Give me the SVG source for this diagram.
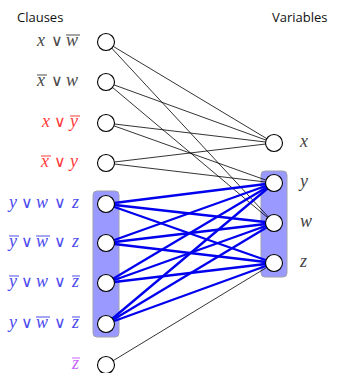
<svg xmlns="http://www.w3.org/2000/svg" width="340" height="373" viewBox="0 0 340 373">
<style>
.hdr{font-family:"Open Sans","Liberation Sans",sans-serif;font-size:13px;fill:#111}
.lab{font-family:"Liberation Serif","DejaVu Serif",serif;font-size:18px;font-style:italic}
.rl{font-family:"Liberation Serif","DejaVu Serif",serif;font-size:18px;fill:#444;font-style:italic}
.op{font-family:"DejaVu Sans","Liberation Sans",sans-serif;font-size:16px;font-style:normal}
.gray{fill:#4a4a4a}.red{fill:#ff3b3b}.blue{fill:#4d4dee}.pur{fill:#c766ff}
.ol{stroke-width:1;fill:none}
.olg{stroke:#4a4a4a}.olr{stroke:#ff3b3b}.olb{stroke:#4d4dee}.olp{stroke:#c766ff}
.e{stroke:#000;stroke-width:0.8;fill:none}
.b{stroke:#0000ee;stroke-width:2.3;fill:none}
.n{fill:#fff;stroke:#000;stroke-width:1.1}
.box{fill:#9999ff;stroke:#a0a0b0;stroke-width:1}
</style>
<rect class="box" x="93" y="191" width="26" height="146" rx="4"/>
<rect class="box" x="261" y="171" width="26" height="106" rx="4"/>
<text class="hdr" x="17" y="22">Clauses</text>
<text class="hdr" x="272" y="22">Variables</text>
<g id="connectors">
<line class="e" x1="106" y1="42" x2="274" y2="143"/>
<line class="e" x1="106" y1="42" x2="274" y2="223"/>
<line class="e" x1="106" y1="82" x2="274" y2="143"/>
<line class="e" x1="106" y1="82" x2="274" y2="223"/>
<line class="e" x1="106" y1="123" x2="274" y2="143"/>
<line class="e" x1="106" y1="123" x2="274" y2="183"/>
<line class="e" x1="106" y1="163" x2="274" y2="143"/>
<line class="e" x1="106" y1="163" x2="274" y2="183"/>
<line class="e" x1="106" y1="365" x2="274" y2="263"/>
<line class="b" x1="106" y1="204" x2="274" y2="183"/>
<line class="b" x1="106" y1="204" x2="274" y2="223"/>
<line class="b" x1="106" y1="204" x2="274" y2="263"/>
<line class="b" x1="106" y1="243" x2="274" y2="183"/>
<line class="b" x1="106" y1="243" x2="274" y2="223"/>
<line class="b" x1="106" y1="243" x2="274" y2="263"/>
<line class="b" x1="106" y1="283" x2="274" y2="183"/>
<line class="b" x1="106" y1="283" x2="274" y2="223"/>
<line class="b" x1="106" y1="283" x2="274" y2="263"/>
<line class="b" x1="106" y1="324" x2="274" y2="183"/>
<line class="b" x1="106" y1="324" x2="274" y2="223"/>
<line class="b" x1="106" y1="324" x2="274" y2="263"/>
</g>
<g id="c1"><circle class="n" cx="106" cy="42" r="8.5"/>
<text class="lab gray" y="46"><tspan x="37">x</tspan><tspan class="op" x="51">∨</tspan><tspan x="66">w</tspan></text>
<line class="ol olg" x1="66" y1="35" x2="80" y2="35"/></g>
<g id="c2"><circle class="n" cx="106" cy="82" r="8.5"/>
<text class="lab gray" y="86"><tspan x="37">x</tspan><tspan class="op" x="51">∨</tspan><tspan x="66">w</tspan></text>
<line class="ol olg" x1="37" y1="75" x2="47" y2="75"/></g>
<g id="c3"><circle class="n" cx="106" cy="123" r="8.5"/>
<text class="lab red" y="127"><tspan x="42">x</tspan><tspan class="op" x="54">∨</tspan><tspan x="70">y</tspan></text>
<line class="ol olr" x1="70" y1="116" x2="80" y2="116"/></g>
<g id="c4"><circle class="n" cx="106" cy="163" r="8.5"/>
<text class="lab red" y="167"><tspan x="41">x</tspan><tspan class="op" x="54">∨</tspan><tspan x="70">y</tspan></text>
<line class="ol olr" x1="41" y1="156" x2="51" y2="156"/></g>
<g id="c5"><circle class="n" cx="106" cy="204" r="8.5"/>
<text class="lab blue" y="208"><tspan x="9">y</tspan><tspan class="op" x="21">∨</tspan><tspan x="36">w</tspan><tspan class="op" x="54">∨</tspan><tspan x="72">z</tspan></text></g>
<g id="c6"><circle class="n" cx="106" cy="243" r="8.5"/>
<text class="lab blue" y="247"><tspan x="9">y</tspan><tspan class="op" x="21">∨</tspan><tspan x="36">w</tspan><tspan class="op" x="54">∨</tspan><tspan x="72">z</tspan></text>
<line class="ol olb" x1="9" y1="236" x2="19" y2="236"/><line class="ol olb" x1="36" y1="236" x2="50" y2="236"/></g>
<g id="c7"><circle class="n" cx="106" cy="283" r="8.5"/>
<text class="lab blue" y="287"><tspan x="9">y</tspan><tspan class="op" x="21">∨</tspan><tspan x="36">w</tspan><tspan class="op" x="54">∨</tspan><tspan x="72">z</tspan></text>
<line class="ol olb" x1="9" y1="276" x2="19" y2="276"/><line class="ol olb" x1="72" y1="276" x2="80" y2="276"/></g>
<g id="c8"><circle class="n" cx="106" cy="324" r="8.5"/>
<text class="lab blue" y="328"><tspan x="9">y</tspan><tspan class="op" x="21">∨</tspan><tspan x="36">w</tspan><tspan class="op" x="54">∨</tspan><tspan x="72">z</tspan></text>
<line class="ol olb" x1="36" y1="317" x2="50" y2="317"/><line class="ol olb" x1="72" y1="317" x2="80" y2="317"/></g>
<g id="c9"><circle class="n" cx="106" cy="365" r="8.5"/>
<text class="lab pur" x="72" y="369">z</text>
<line class="ol olp" x1="72" y1="358" x2="80" y2="358"/></g>
<g id="vx"><circle class="n" cx="274" cy="143" r="8.5"/><text class="rl" x="300" y="147">x</text></g>
<g id="vy"><circle class="n" cx="274" cy="183" r="8.5"/><text class="rl" x="300" y="187">y</text></g>
<g id="vw"><circle class="n" cx="274" cy="223" r="8.5"/><text class="rl" x="300" y="227">w</text></g>
<g id="vz"><circle class="n" cx="274" cy="263" r="8.5"/><text class="rl" x="300" y="267">z</text></g>
</svg>
